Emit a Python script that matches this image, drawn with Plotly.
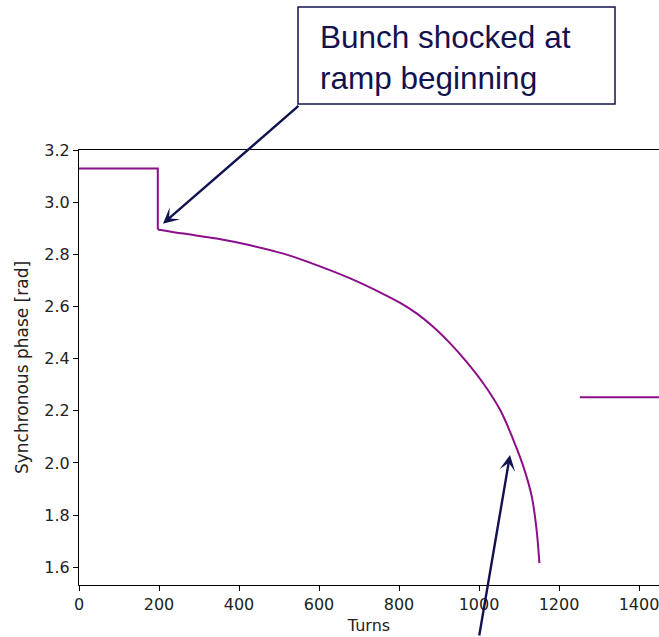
import plotly.graph_objects as go

# ---- data ----
flat_turns = [0, 197, 197]
flat_phase = [3.13, 3.13, 2.896]

ramp_turns = [197, 261, 344, 428, 511, 594, 678, 761, 803, 844, 886, 928, 969,
              1011, 1053, 1086, 1111, 1132, 1144, 1151]
ramp_phase = [2.896, 2.880, 2.861, 2.835, 2.803, 2.759, 2.708, 2.648, 2.614, 2.574,
              2.522, 2.459, 2.388, 2.305, 2.203, 2.088, 1.986, 1.871, 1.743, 1.616]

late_turns = [1252, 1500]
late_phase = [2.252, 2.252]

x_ticks = [0, 200, 400, 600, 800, 1000, 1200, 1400]
y_ticks = [1.6, 1.8, 2.0, 2.2, 2.4, 2.6, 2.8, 3.0, 3.2]

LINE = "#8b0f8b"
NAVY = "#12124f"

W, H = 659, 637
ML, MR, MT, MB = 79, 0, 150, 52
PW, PH = W - ML - MR, H - MT - MB


def px_x(p):
    return (p - ML) / PW


def px_y(p):
    return (H - MB - p) / PH


fig = go.Figure()
for xs, ys, shape in [(flat_turns, flat_phase, "linear"),
                      (ramp_turns, ramp_phase, "spline"),
                      (late_turns, late_phase, "linear")]:
    fig.add_trace(go.Scatter(x=xs, y=ys, mode="lines",
                             line=dict(color=LINE, width=2, shape=shape, smoothing=1),
                             showlegend=False, hoverinfo="skip"))

tick_font = dict(family="DejaVu Sans", size=16, color="#222222")
title_font = dict(family="DejaVu Sans", size=17, color="#222222")

fig.update_layout(
    width=W, height=H,
    margin=dict(l=ML, r=MR, t=MT, b=MB, pad=0),
    paper_bgcolor="white", plot_bgcolor="white",
    xaxis=dict(range=[0, 1450], tickvals=x_ticks, showgrid=False, zeroline=False,
               showline=True, linecolor="black", linewidth=1, mirror=True,
               ticks="outside", ticklen=5, tickcolor="black", tickfont=tick_font,
               ticklabeloverflow="allow",
               title=dict(text="Turns", font=tick_font, standoff=6)),
    yaxis=dict(range=[1.532, 3.2005], tickvals=y_ticks, tickformat=".1f",
               showgrid=False, zeroline=False,
               showline=True, linecolor="black", linewidth=1, mirror=False,
               ticks="outside", ticklen=5, tickcolor="black", tickfont=tick_font,
               title=dict(text="Synchronous phase [rad]", font=title_font, standoff=11)),
)

# text box
fig.add_shape(type="rect", xref="paper", yref="paper",
              x0=px_x(298), x1=px_x(615), y0=px_y(104), y1=px_y(7),
              line=dict(color=NAVY, width=1.5), fillcolor="white", layer="above")
fig.add_annotation(xref="paper", yref="paper", x=px_x(318), y=px_y(57),
                   xanchor="left", yanchor="middle", align="left", showarrow=False,
                   text="Bunch shocked at<br>ramp beginning",
                   font=dict(family="Arial, Liberation Sans", size=31.5, color=NAVY))

# arrows
fig.add_annotation(x=210, y=2.918, xref="x", yref="y", text="", showarrow=True,
                   ax=137, ay=-119, arrowhead=3, arrowsize=1.1, arrowwidth=2.4,
                   arrowcolor=NAVY, standoff=0)
fig.add_annotation(x=1077.5, y=2.031, xref="x", yref="y", text="", showarrow=True,
                   ax=-31, ay=185, arrowhead=3, arrowsize=1.1, arrowwidth=2.4,
                   arrowcolor=NAVY, standoff=0)

fig.write_html("out.html")
